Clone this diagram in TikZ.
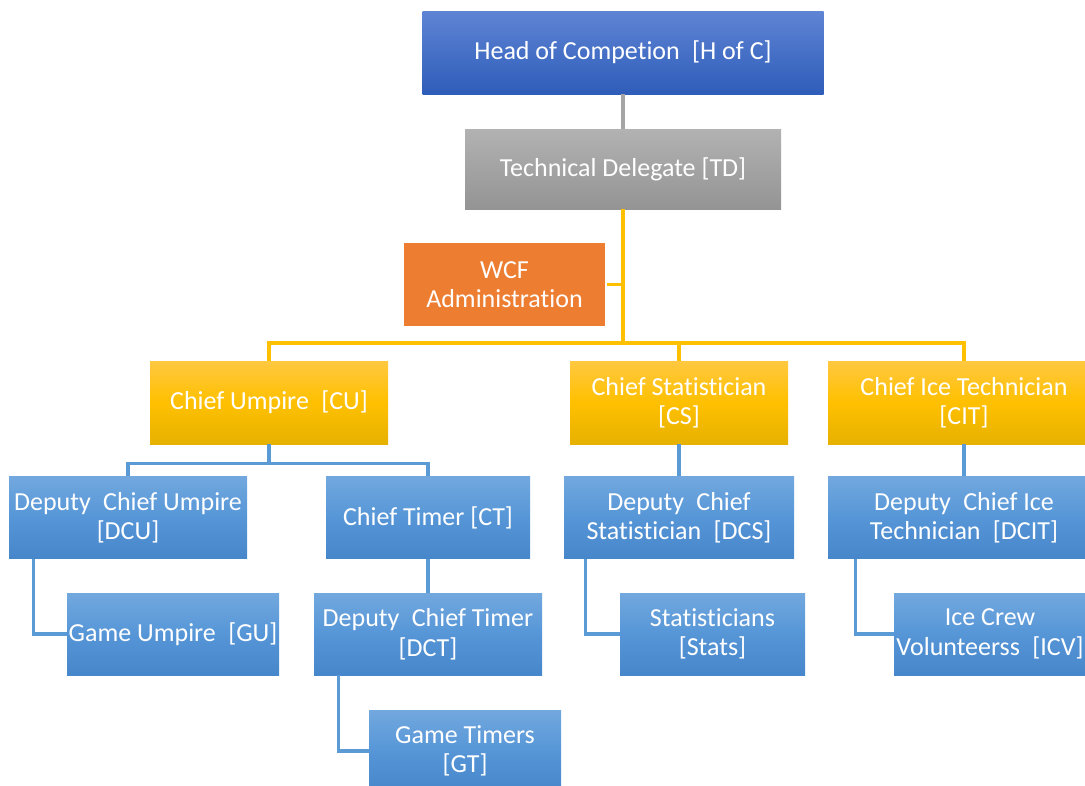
\documentclass[tikz,border=0pt]{standalone}
\usepackage{fontspec}
\setmainfont[Ligatures={NoCommon}]{Carlito}
\usetikzlibrary{calc}
\definecolor{bluetop}{RGB}{114,168,222}
\definecolor{bluemid}{RGB}{86,150,215}
\definecolor{bluebot}{RGB}{70,134,202}
\definecolor{hoctop}{RGB}{95,132,212}
\definecolor{hocbot}{RGB}{46,93,185}
\definecolor{graytop}{RGB}{178,178,178}
\definecolor{graybot}{RGB}{148,148,148}
\definecolor{goldtop}{RGB}{255,200,64}
\definecolor{goldmid}{RGB}{255,192,0}
\definecolor{goldbot}{RGB}{230,177,0}
\definecolor{orangebox}{RGB}{237,125,49}
\definecolor{lineblue}{RGB}{91,155,213}
\definecolor{linegold}{RGB}{255,192,0}
\definecolor{linegray}{RGB}{165,165,165}
\newcommand{\xs}{\hspace{0.25em}}
\tikzset{
  box/.style={inner sep=0pt, align=center, text=white,
    font=\fontsize{26}{29.5}\selectfont, minimum height=83pt},
  bluebox/.style={box, top color=bluetop, bottom color=bluebot, middle color=bluemid, minimum height=82pt},
  goldbox/.style={box, top color=goldtop, bottom color=goldbot, middle color=goldmid},
  graybox/.style={box, top color=graytop, bottom color=graybot, minimum height=80pt},
  hocbox/.style={box, top color=hoctop, bottom color=hocbot},
  orbox/.style={box, fill=orangebox},
  conn/.style={line width=3.2pt},
  bconn/.style={conn, draw=lineblue},
  yconn/.style={conn, draw=linegold},
  gconn/.style={conn, draw=linegray},
}
\begin{document}
\begin{tikzpicture}[x=1pt,y=-1pt]
\useasboundingbox (0,0) rectangle (1085,785);
% nodes
\node[hocbox, minimum width=401pt] (hoc) at (623,52.5) {Head of Competion\xs{} [H of C]};
\node[graybox, minimum width=316pt] (td) at (623,169) {Technical Delegate [TD]};
\node[orbox, minimum width=201pt] (wcf) at (504.5,284.5) {WCF\\Administration};
\node[goldbox, minimum width=238pt] (cu) at (269,402.5) {Chief Umpire\xs{} [CU]};
\node[goldbox, minimum width=218pt] (cs) at (679,402.5) {Chief Statistician\\{}[CS]};
\node[goldbox, minimum width=272pt] (cit) at (964,402.5) {Chief Ice Technician\\{}[CIT]};
\node[bluebox, minimum width=238pt] (dcu) at (128,517.5) {Deputy\xs{} Chief Umpire\\{}[DCU]};
\node[bluebox, minimum width=204pt] (ct) at (428,517.5) {Chief Timer [CT]};
\node[bluebox, minimum width=230pt] (dcs) at (679,517.5) {Deputy\xs{} Chief\\Statistician\xs{} [DCS]};
\node[bluebox, minimum width=272pt] (dcit) at (964,517.5) {Deputy\xs{} Chief Ice\\Technician\xs{} [DCIT]};
\node[bluebox, minimum width=212pt] (gu) at (173,634) {Game Umpire\xs{} [GU]};
\node[bluebox, minimum width=228pt] (dct) at (428,634) {Deputy\xs{} Chief Timer\\{}[DCT]};
\node[bluebox, minimum width=185pt] (stats) at (712.5,634) {Statisticians\\{}[Stats]};
\node[bluebox, minimum width=192pt] (icv) at (990,634) {Ice Crew\\Volunteerss\xs{} [ICV]};
\node[bluebox, minimum width=192pt] (gt) at (465,751) {Game Timers\\{}[GT]};
% connectors
\draw[gconn] (hoc.south) -- (td.north);
\coordinate (bus) at (623,343);
\draw[yconn] (td.south) -- (td.south |- bus);
\draw[yconn] ($(wcf.east)+(2,0)$) -- (wcf.east -| td.south);
\draw[yconn] (cu.north) |- (bus) -| (cit.north);
\draw[yconn] (cs.north) -- (cs.north |- bus);
\draw[bconn] (cu.south) -- ++(0,19) coordinate (cub);
\draw[bconn] (dcu.north) |- (cub) -| (ct.north);
\draw[bconn] (ct.south) -- (dct.north);
\draw[bconn] (cs.south) -- (dcs.north);
\draw[bconn] (cit.south) -- (dcit.north);
\draw[bconn] ($(dcu.south west)+(25,0)$) |- (gu.west);
\draw[bconn] ($(dct.south west)+(25,0)$) |- (gt.west);
\draw[bconn] ($(dcs.south west)+(22,0)$) |- (stats.west);
\draw[bconn] ($(dcit.south west)+(28,0)$) |- (icv.west);
\end{tikzpicture}
\end{document}
